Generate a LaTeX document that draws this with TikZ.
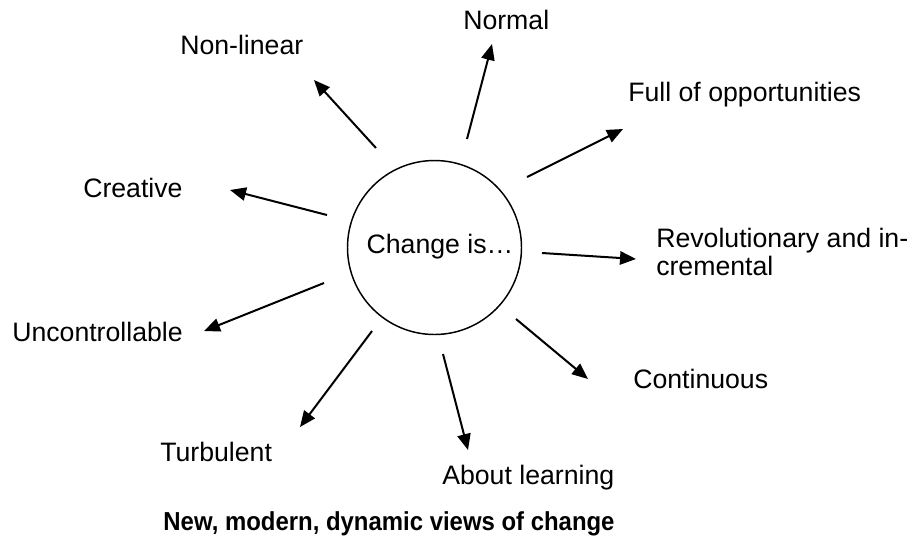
\documentclass[tikz,border=0pt]{standalone}
\usepackage{fontspec}
\setmainfont{Liberation Sans}
\usetikzlibrary{arrows.meta}
\begin{document}
\begin{tikzpicture}[x=0.75pt,y=-0.75pt,
  lbl/.style={anchor=base west, inner sep=0pt, font=\fontsize{20}{21}\selectfont, align=left},
  ray/.style={line width=1.5pt, -{Triangle[length=12pt,width=10pt]}},
  hub/.style={circle, draw, line width=1.1pt, minimum size=130.5pt, inner sep=0pt}]
\useasboundingbox (0,0) rectangle (909,544);
% centre
\node[hub] (c) at (434.5,247.5) {};
\node[anchor=base, inner sep=0pt, font=\fontsize{20}{24}\selectfont] (ct) at (440,253) {Change is…};
% labels
\node[lbl] (normal) at (463,29) {Normal};
\node[lbl] (nonlin) at (180,54) {Non-linear};
\node[lbl] (full) at (628,101) {Full of opportunities};
\node[lbl] (creat) at (83,197) {Creative};
\node[lbl] (revo) at (656,275) {Revolutionary and in-\\cremental};
\node[lbl] (unctrl) at (12,341) {Uncontrollable};
\node[lbl] (cont) at (633,388) {Continuous};
\node[lbl] (turb) at (160,461) {Turbulent};
\node[lbl] (learn) at (442,484) {About learning};
\node[anchor=base, inner sep=0pt, font=\fontsize{19.5}{22}\selectfont\bfseries] (title) at (389,530) {\scalebox{0.92}[1]{New, modern, dynamic views of change}};
% arrow end points
\coordinate (s1) at (467,139); \coordinate (e1) at (492,44);
\coordinate (s2) at (527,177); \coordinate (e2) at (623,129);
\coordinate (s3) at (376,148); \coordinate (e3) at (314,80);
\coordinate (s4) at (327,215); \coordinate (e4) at (230,190);
\coordinate (s5) at (542,253); \coordinate (e5) at (636,259);
\coordinate (s6) at (324,283); \coordinate (e6) at (204,331);
\coordinate (s7) at (372,331); \coordinate (e7) at (300,427);
\coordinate (s8) at (443,354); \coordinate (e8) at (468,450);
\coordinate (s9) at (516,319); \coordinate (e9) at (588,379);
\foreach \i in {1,...,9} \draw[ray] (s\i) -- (e\i);
\end{tikzpicture}
\end{document}
